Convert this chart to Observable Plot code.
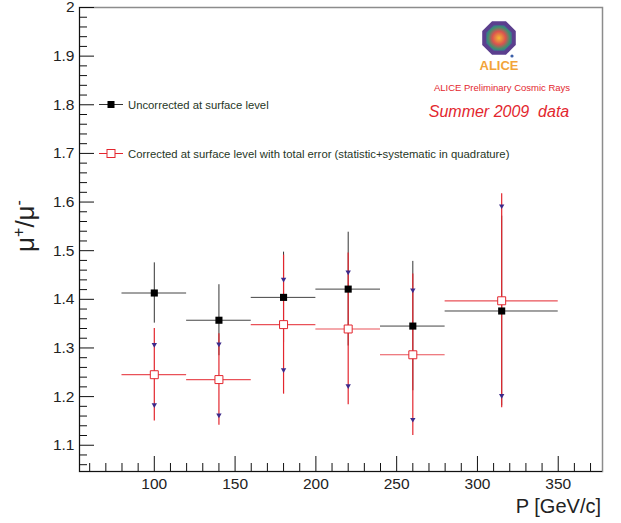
<!DOCTYPE html>
<html><head><meta charset="utf-8">
<script src="https://cdn.jsdelivr.net/npm/d3@7"></script>
<script src="https://cdn.jsdelivr.net/npm/@observablehq/plot@0.6"></script>
<style>body{margin:0;background:#fff} svg{display:block}</style>
</head><body><div id="chart"></div>
<script>
// ---- data ----
const momentum   = [100, 140, 180, 220, 260, 315];
const binLow     = [80, 120, 160, 200, 240, 280];
const binHigh    = [120, 160, 200, 240, 280, 350];
const uncorrected   = [1.413, 1.357, 1.404, 1.421, 1.345, 1.376];
const statError     = [0.062, 0.073, 0.093, 0.117, 0.133, 0.195];
const corrected     = [1.245, 1.235, 1.348, 1.339, 1.286, 1.397];
const totalError    = [0.095, 0.094, 0.143, 0.156, 0.166, 0.220];
const xTickLabels = [100, 150, 200, 250, 300, 350];
const yTickLabels = [1.1, 1.2, 1.3, 1.4, 1.5, 1.6, 1.7, 1.8, 1.9, 2];
const legendLabels = ["Uncorrected at surface level",
  "Corrected at surface level with total error (statistic+systematic in quadrature)"];

const rows = momentum.map((p, i) => ({p, lo: binLow[i], hi: binHigh[i],
  u: uncorrected[i], s: statError[i], c: corrected[i], t: totalError[i]}));

const W = 621, H = 523, mL = 79, mR = 19, mT = 7, mB = 52;
const plotW = W - mL - mR, plotH = H - mT - mB;
const xDomain = [53.7, 377.4], yDomain = [1.046, 2.0];
const xMinor = d3.range(60, 380, 10).filter(v => v % 50 !== 0);
const yMinor = d3.range(53, 100).filter(i => i % 5 !== 0).map(i => i / 50);

const RED = "#e3262e", BLK = "#111", PURP = "#3d2a8a";

const chart = Plot.plot({
  width: W, height: H,
  marginLeft: mL, marginRight: mR, marginTop: mT, marginBottom: mB,
  style: {fontFamily: "'Liberation Sans', Arial, sans-serif", color: "#222", background: "#fff"},
  x: {domain: xDomain},
  y: {domain: yDomain},
  marks: [
    Plot.frame({stroke: "#8c8c8c", strokeWidth: 1.5}),
    Plot.ruleX([xDomain[0]], {stroke: BLK}),
    Plot.ruleY([yDomain[0]], {stroke: BLK}),
    Plot.tickY(yTickLabels, {y: d => d, insetRight: plotW - 15, stroke: BLK}),
    Plot.tickY(yMinor, {y: d => d, insetRight: plotW - 8, stroke: BLK}),
    Plot.tickX(xTickLabels, {x: d => d, insetTop: plotH - 15, stroke: BLK}),
    Plot.tickX(xMinor, {x: d => d, insetTop: plotH - 8, stroke: BLK}),
    Plot.axisY({ticks: yTickLabels, tickSize: 0, tickPadding: 5, fontSize: 15.5, label: null,
      tickFormat: d => d === 2 ? "2" : d.toFixed(1)}),
    Plot.axisX({ticks: xTickLabels, tickSize: 0, tickPadding: 6, fontSize: 15.5, label: null,
      tickFormat: d => String(d)}),
    // uncorrected (statistical) error bars
    Plot.ruleY(rows, {y: "u", x1: "lo", x2: "hi", stroke: "#444", strokeWidth: 1}),
    Plot.ruleX(rows, {x: "p", y1: d => d.u - d.s, y2: d => d.u + d.s, stroke: "#333", strokeWidth: 1}),
    // corrected total error bars
    Plot.ruleY(rows, {y: "c", x1: "lo", x2: "hi", stroke: RED, strokeOpacity: 0.8, strokeWidth: 1.2}),
    Plot.ruleX(rows, {x: "p", y1: d => d.c - d.t, y2: d => d.c + d.t, stroke: RED, strokeWidth: 1.2}),
    // statistical error ends on corrected
    Plot.dot(rows, {x: "p", y: d => d.c + d.s, symbol: "triangle", r: 2, rotate: 180, fill: PURP}),
    Plot.dot(rows, {x: "p", y: d => d.c - d.s, symbol: "triangle", r: 2, rotate: 180, fill: PURP}),
    Plot.dot(rows, {x: "p", y: "c", symbol: "square", r: 4.5, fill: "white", stroke: RED, strokeWidth: 1}),
    Plot.dot(rows, {x: "p", y: "u", symbol: "square", r: 4, fill: "black"})
  ]
});
document.getElementById("chart").appendChild(chart);

const svg = d3.select(chart);
const FF = "'Liberation Sans', Arial, sans-serif";
// legend
const leg = svg.append("g").attr("font-family", FF).attr("font-size", 11.3).attr("fill", "#263626")
  .attr("text-anchor", "start");
leg.append("line").attr("x1", 99).attr("x2", 123).attr("y1", 104.5).attr("y2", 104.5).attr("stroke", "#333");
leg.append("rect").attr("x", 107.5).attr("y", 101).attr("width", 7).attr("height", 7).attr("fill", "black");
leg.append("text").attr("x", 128).attr("y", 108.5).text(legendLabels[0]);
leg.append("line").attr("x1", 99).attr("x2", 123).attr("y1", 153.5).attr("y2", 153.5).attr("stroke", RED);
leg.append("rect").attr("x", 107).attr("y", 149.5).attr("width", 8).attr("height", 8).attr("fill", "white").attr("stroke", RED);
leg.append("text").attr("x", 128).attr("y", 157.5).text(legendLabels[1]);

// ALICE logo
const defs = svg.append("defs");
const rg = defs.append("radialGradient").attr("id", "aliceg");
rg.append("stop").attr("offset", "0%").attr("stop-color", "#f7b733");
rg.append("stop").attr("offset", "45%").attr("stop-color", "#d9534f");
rg.append("stop").attr("offset", "75%").attr("stop-color", "#3f8f6f");
rg.append("stop").attr("offset", "100%").attr("stop-color", "#3b5fa8");
const cx = 499, cy = 38, R = 16;
const oct = d3.range(8).map(k => {
  const a = Math.PI / 8 + k * Math.PI / 4;
  return [cx + R * Math.cos(a), cy + R * Math.sin(a)];
});
svg.append("polygon").attr("points", oct.map(p => p.join(",")).join(" "))
  .attr("fill", "url(#aliceg)").attr("stroke", "#5b3f8e").attr("stroke-width", 4);
svg.append("text").attr("x", 499).attr("y", 70).attr("text-anchor", "middle")
  .attr("font-family", FF).attr("font-weight", "bold").attr("font-size", 13)
  .attr("fill", "#f2a43a").text("ALICE");
svg.append("circle").attr("cx", 512).attr("cy", 56).attr("r", 1.6).attr("fill", "#3b5fa8");

svg.append("text").attr("x", 502).attr("y", 91).attr("text-anchor", "middle")
  .attr("font-family", FF).attr("font-size", 9.5).attr("fill", "#e3262e")
  .text("ALICE Preliminary Cosmic Rays");
svg.append("text").attr("x", 499).attr("y", 117).attr("text-anchor", "middle")
  .attr("font-family", FF).attr("font-style", "italic").attr("font-size", 16).attr("fill", "#e3262e")
  .attr("xml:space", "preserve").style("white-space", "pre")
  .text("Summer 2009  data");

// axis titles
svg.append("text").attr("x", 601).attr("y", 513).attr("text-anchor", "end")
  .attr("font-family", FF).attr("font-size", 20).attr("fill", "#222").text("P [GeV/c]");
const yl = svg.append("text").attr("transform", "translate(34,226) rotate(-90)")
  .attr("text-anchor", "middle").attr("font-family", FF).attr("font-size", 26).attr("fill", "#222");
yl.append("tspan").text("μ");
yl.append("tspan").attr("dy", -10).attr("font-size", 16).text("+");
yl.append("tspan").attr("dy", 10).text("/μ");
yl.append("tspan").attr("dy", -10).attr("font-size", 16).text("-");
</script></body></html>
